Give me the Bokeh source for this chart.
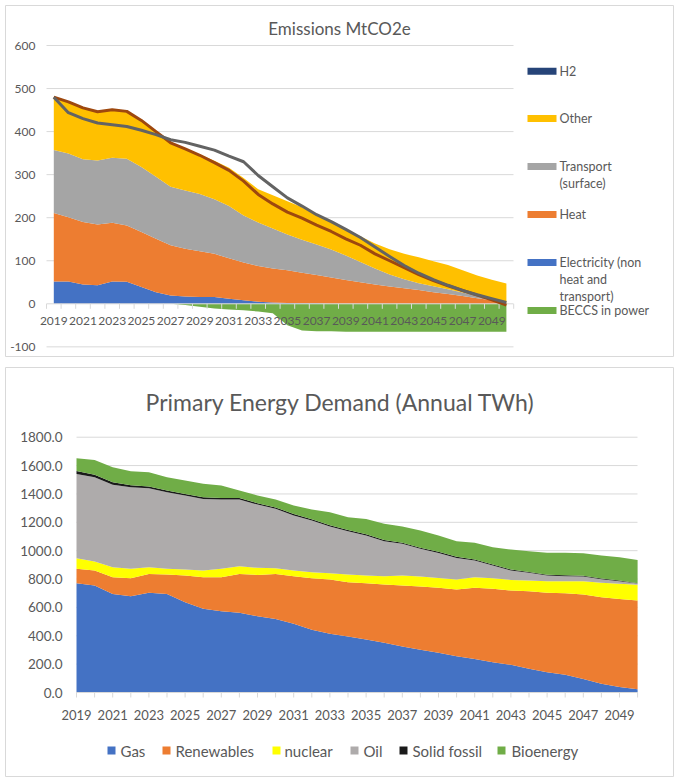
from bokeh.plotting import figure
from bokeh.models import ColumnDataSource, Range1d
from bokeh.layouts import column
from bokeh.embed import file_html
from bokeh.resources import INLINE
from bokeh.core.properties import value

# ---------------- data ----------------
years = list(range(2019, 2051))

# Emissions MtCO2e (stacked areas)
electricity = [52, 52, 45, 43, 52, 51, 39, 27, 19, 17, 16, 16, 12, 8, 5, 3, 2, 1, 1, 0,
               0, 0, 0, 0, 0, 0, 0, 0, 0, 0, 0, 0]
heat = [159, 149, 145, 141, 136, 131, 128, 124, 117, 111, 106, 100, 94, 88, 83, 79, 76, 71, 66, 61,
        55, 50, 45, 40, 36, 32, 27, 23, 18, 13, 8, 1]
transport = [146, 148, 146, 149, 151, 155, 151, 144, 136, 135, 133, 127, 121, 109, 101, 93, 83, 77, 71, 65,
             57, 47, 37, 28, 21, 16, 14, 11, 8, 6, 4, 2]
other = [123, 120, 119, 112, 113, 110, 108, 104, 104, 98, 92, 89, 89, 87, 77, 77, 77, 75, 69, 65,
         62, 60, 58, 59, 59, 60, 58, 56, 52, 47, 44, 44]
h2 = [0, 0, 0, 0, 0, 0, 0, 0, 0, 0, 0, 0, 0, 0, 0, 0, 0, 0, 0, 0,
      0, 0, 0, 0, 0, 0, 0, 0, 0, 0, 0, 0]
beccs = [0, 0, 0, 0, 0, 0, 0, 0, 0, -3, -7, -11, -13, -15, -18, -22, -50, -62, -64, -64,
         -65, -65, -65, -65, -65, -65, -65, -65, -65, -65, -65, -65]
# Two pathway lines
line_brown = [480, 469, 455, 446, 451, 447, 426, 400, 374, 360, 345, 328, 310, 285, 254, 232, 213, 199, 183, 168,
              151, 136, 116, 100, 84, 68, 54, 42, 31, 20, 9, -3]
line_gray = [480, 444, 430, 420, 416, 412, 403, 393, 381, 375, 366, 357, 343, 330, 298, 272, 246, 227, 207, 191,
             173, 154, 132, 110, 89, 71, 56, 43, 31, 21, 12, 3]

em_yticks = [600, 500, 400, 300, 200, 100, 0, -100]
em_xlabels = ["2019", "2021", "2023", "2025", "2027", "2029", "2031", "2033", "2035", "2037",
              "2039", "2041", "2043", "2045", "2047", "2049"]
em_legend = ["H2", "Other", "Transport\n(surface)", "Heat",
             "Electricity (non\nheat and\ntransport)", "BECCS in power"]

# Primary Energy Demand (Annual TWh)
gas = [771, 754, 695, 679, 703, 695, 637, 590, 573, 562, 538, 519, 484, 442, 414, 395, 374, 350, 324, 301,
       280, 256, 237, 214, 195, 167, 143, 125, 96, 61, 38, 23]
renewables = [101, 106, 118, 127, 133, 137, 188, 223, 240, 274, 291, 317, 336, 364, 383, 383, 397, 411, 430, 446,
              458, 470, 501, 517, 524, 547, 560, 575, 595, 611, 622, 625]
nuclear = [75, 63, 70, 66, 47, 40, 42, 47, 59, 54, 50, 40, 40, 42, 44, 54, 54, 59, 71, 71,
           70, 71, 75, 75, 75, 75, 82, 85, 94, 101, 106, 111]
oil = [594, 595, 581, 575, 557, 540, 522, 505, 488, 470, 446, 419, 388, 364, 329, 305, 282, 247, 223, 195,
       176, 152, 117, 89, 66, 55, 40, 35, 33, 26, 19, 9]
solid_fossil = [20, 18, 18, 14, 13, 12, 11, 11, 11, 11, 10, 10, 10, 9, 9, 9, 8, 8, 8, 8,
                8, 8, 7, 7, 7, 6, 6, 6, 5, 4, 4, 3]
bioenergy = [91, 104, 106, 99, 100, 94, 94, 95, 88, 53, 54, 55, 60, 69, 92, 90, 109, 114, 114, 121,
             115, 110, 118, 122, 141, 146, 154, 159, 159, 163, 165, 164]

pe_yticks = [0, 200, 400, 600, 800, 1000, 1200, 1400, 1600, 1800]
pe_ylabels = ["0.0", "200.0", "400.0", "600.0", "800.0", "1000.0", "1200.0", "1400.0", "1600.0", "1800.0"]
pe_xlabels = ["2019", "2021", "2023", "2025", "2027", "2029", "2031", "2033", "2035", "2037",
              "2039", "2041", "2043", "2045", "2047", "2049"]
pe_legend = ["Gas", "Renewables", "nuclear", "Oil", "Solid fossil", "Bioenergy"]

# ---------------- styling ----------------
FONT = value("Lato")
TXT = "#595959"
GRID = "#D9D9D9"
W, H1, H2 = 669, 352, 410
OX, OY1, OY2 = 5, 5, 367   # page position of each chart box

# ---------------- top chart ----------------
def tx(rx):
    return 2019 + (rx - 53.3) / 14.6

def ty(ry):
    return (303.3 - ry) / 0.4305

p1 = figure(width=W, height=H1,
            x_range=Range1d(tx(OX), tx(OX + W)), y_range=Range1d(ty(OY1 + H1), ty(OY1)),
            output_backend="svg", toolbar_location=None,
            x_axis_location=None, y_axis_location=None, min_border=0,
            outline_line_color=GRID, background_fill_color="white", border_fill_color="white")
p1.grid.visible = False

grid_vals = [v for v in em_yticks if v != 0]
p1.segment(x0=tx(46), x1=tx(513), y0=grid_vals, y1=grid_vals, line_color=GRID, line_width=1)

src1 = ColumnDataSource(dict(year=years, electricity=electricity, heat=heat, transport=transport,
                             other=other, h2=h2, beccs=beccs, brown=line_brown, gray=line_gray))
p1.varea(x="year", y1=0, y2="beccs", source=src1, fill_color="#70AD47")
p1.varea_stack(["electricity", "heat", "transport", "other", "h2"], x="year",
               color=["#4472C4", "#ED7D31", "#A5A5A5", "#FFC000", "#264478"], source=src1)

# category axis at zero
p1.segment(x0=tx(46), x1=tx(513), y0=0, y1=0, line_color=GRID, line_width=1)
tick_x = [y - 0.5 for y in years] + [years[-1] + 0.5]
p1.segment(x0=tick_x, x1=tick_x, y0=0, y1=ty(308.3), line_color=GRID, line_width=1)

p1.line(x="year", y="brown", source=src1, line_color="#9E480E", line_width=3, line_join="round")
p1.line(x="year", y="gray", source=src1, line_color="#636363", line_width=3, line_join="round")

p1.text(x=[int(s) for s in em_xlabels], y=ty(320), text=em_xlabels, text_font=FONT,
        text_font_size="12px", text_color=TXT, text_align="center", text_baseline="middle")
p1.text(x=tx(35), y=em_yticks, text=[str(v) for v in em_yticks], text_font=FONT,
        text_font_size="12px", text_color=TXT, text_align="right", text_baseline="middle")
p1.text(x=tx(339), y=ty(28), text=["Emissions MtCO2e"], text_font=FONT,
        text_font_size="17px", text_color=TXT, text_align="center", text_baseline="middle")

leg_y = [70.7, 118, 166, 214, 262, 310]
leg_colors = ["#264478", "#FFC000", "#A5A5A5", "#ED7D31", "#4472C4", "#70AD47"]
p1.rect(x=tx(541.5), y=[ty(v) for v in leg_y], width=29, height=7,
        width_units="screen", height_units="screen", fill_color=leg_colors, line_color=None)
for label, cy in zip(em_legend, leg_y):
    for j, part in enumerate(label.split("\n")):
        p1.text(x=tx(559), y=ty(cy + 17 * j), text=[part], text_font=FONT,
                text_font_size="12.5px", text_color=TXT, text_align="left", text_baseline="middle")

# ---------------- bottom chart ----------------
def bx(rx):
    return 2019 + (rx - 76) / 18.1

def by(ry):
    return (692 - ry) / 0.14183

p2 = figure(width=W, height=H2,
            x_range=Range1d(bx(OX), bx(OX + W)), y_range=Range1d(by(OY2 + H2), by(OY2)),
            output_backend="svg", toolbar_location=None,
            x_axis_location=None, y_axis_location=None, min_border=0,
            outline_line_color=GRID, background_fill_color="white", border_fill_color="white")
p2.grid.visible = False

pgrid = [v for v in pe_yticks if v != 0]
p2.segment(x0=bx(76), x1=bx(637), y0=pgrid, y1=pgrid, line_color=GRID, line_width=1)

src2 = ColumnDataSource(dict(year=years, gas=gas, renewables=renewables, nuclear=nuclear,
                             oil=oil, solid=solid_fossil, bio=bioenergy))
p2.varea_stack(["gas", "renewables", "nuclear", "oil", "solid", "bio"], x="year",
               color=["#4472C4", "#ED7D31", "#FFFF00", "#AEABAB", "#1A1A1A", "#70AD47"], source=src2)

p2.segment(x0=bx(76), x1=bx(637), y0=0, y1=0, line_color=GRID, line_width=1)
p2.segment(x0=years, x1=years, y0=0, y1=by(697), line_color=GRID, line_width=1)

p2.text(x=[int(s) for s in pe_xlabels], y=by(714), text=pe_xlabels, text_font=FONT,
        text_font_size="13px", text_color=TXT, text_align="center", text_baseline="middle")
p2.text(x=bx(62), y=pe_yticks, text=pe_ylabels, text_font=FONT,
        text_font_size="13.5px", text_color=TXT, text_align="right", text_baseline="middle")
p2.text(x=bx(340), y=by(401), text=["Primary Energy Demand (Annual TWh)"], text_font=FONT,
        text_font_size="23px", text_color=TXT, text_align="center", text_baseline="middle")

sw_left = [107, 162, 272, 350, 399, 497]
txt_left = [120, 175, 284, 363, 412, 511]
pe_colors = ["#4472C4", "#ED7D31", "#FFFF00", "#AEABAB", "#1A1A1A", "#70AD47"]
p2.rect(x=[bx(v + 4) for v in sw_left], y=by(750), width=8, height=8,
        width_units="screen", height_units="screen", fill_color=pe_colors, line_color=None)
p2.text(x=[bx(v) for v in txt_left], y=by(750), text=pe_legend, text_font=FONT,
        text_font_size="15px", text_color=TXT, text_align="left", text_baseline="middle")

layout = column(p1, p2, spacing=OY2 - OY1 - H1, margin=(OY1, 0, 0, OX))
open("out.html", "w").write(file_html(layout, INLINE))
